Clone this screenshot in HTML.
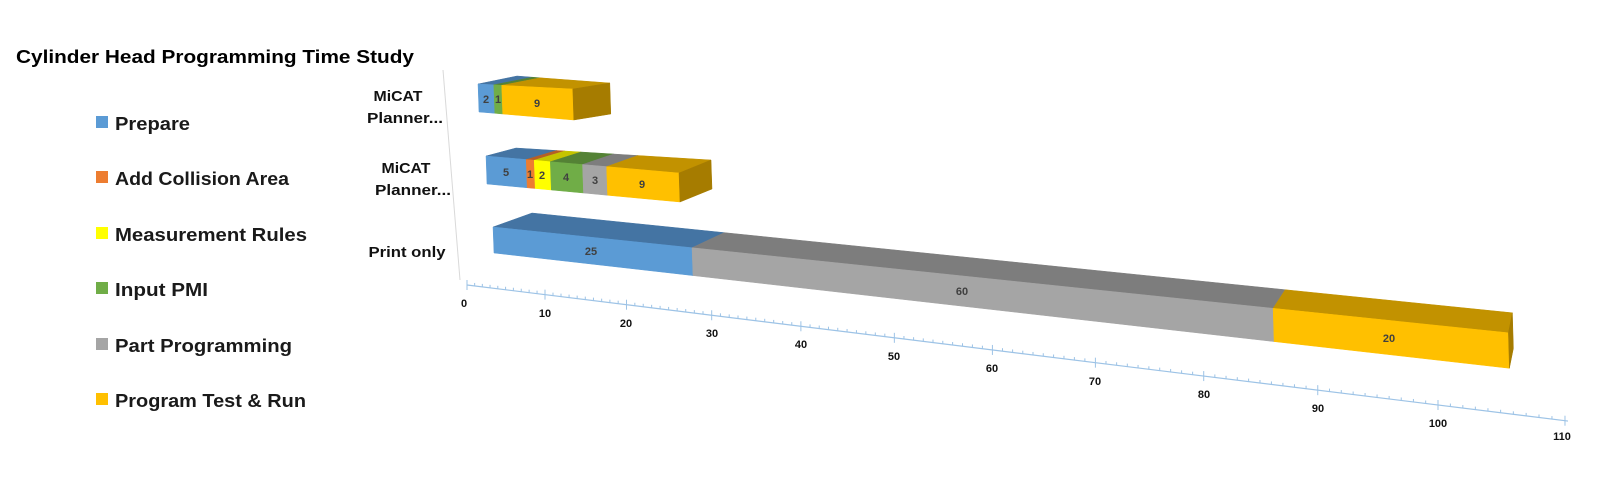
<!DOCTYPE html>
<html><head><meta charset="utf-8"><style>
html,body{margin:0;padding:0;background:#fff;width:1600px;height:500px;overflow:hidden}
svg{display:block}
.t{font-family:"Liberation Sans",sans-serif;font-weight:bold;fill:#000}
.lg{font-family:"Liberation Sans",sans-serif;font-size:18px;font-weight:bold;fill:#1a1a1a}
.cat{font-family:"Liberation Sans",sans-serif;font-size:15px;font-weight:bold;fill:#111;text-anchor:middle}
.ax{font-family:"Liberation Sans",sans-serif;font-size:11px;font-weight:bold;fill:#111;text-anchor:middle}
.bl{font-family:"Liberation Sans",sans-serif;font-size:11px;font-weight:bold;fill:#404040;text-anchor:middle}
</style></head><body>
<svg id="s" width="1600" height="500" viewBox="0 0 1600 500" xmlns="http://www.w3.org/2000/svg">
<text class="t" x="16" y="63" font-size="18" textLength="398" lengthAdjust="spacingAndGlyphs">Cylinder Head Programming Time Study</text>
<rect x="96" y="116" width="12" height="12" fill="#5b9bd5"/><text class="lg" x="115" y="130" textLength="75" lengthAdjust="spacingAndGlyphs">Prepare</text>
<rect x="96" y="171" width="12" height="12" fill="#ed7d31"/><text class="lg" x="115" y="185" textLength="174" lengthAdjust="spacingAndGlyphs">Add Collision Area</text>
<rect x="96" y="227" width="12" height="12" fill="#ffff00"/><text class="lg" x="115" y="241" textLength="192" lengthAdjust="spacingAndGlyphs">Measurement Rules</text>
<rect x="96" y="282" width="12" height="12" fill="#70ad47"/><text class="lg" x="115" y="296" textLength="93" lengthAdjust="spacingAndGlyphs">Input PMI</text>
<rect x="96" y="338" width="12" height="12" fill="#a5a5a5"/><text class="lg" x="115" y="352" textLength="177" lengthAdjust="spacingAndGlyphs">Part Programming</text>
<rect x="96" y="393" width="12" height="12" fill="#ffc000"/><text class="lg" x="115" y="407" textLength="191" lengthAdjust="spacingAndGlyphs">Program Test &amp; Run</text>
<text class="cat" x="398" y="101" textLength="49" lengthAdjust="spacingAndGlyphs">MiCAT</text><text class="cat" x="405" y="123" textLength="76" lengthAdjust="spacingAndGlyphs">Planner...</text>
<text class="cat" x="406" y="173" textLength="49" lengthAdjust="spacingAndGlyphs">MiCAT</text><text class="cat" x="413" y="195" textLength="76" lengthAdjust="spacingAndGlyphs">Planner...</text>
<text class="cat" x="407" y="257" textLength="77" lengthAdjust="spacingAndGlyphs">Print only</text>
<line x1="443" y1="70" x2="460" y2="280" stroke="#d9d9d9" stroke-width="1"/>
<g id="bars"></g>
<g id="axis"></g>
<text class="bl" x="486" y="103">2</text><text class="bl" x="498" y="103">1</text><text class="bl" x="537" y="107">9</text>
<text class="bl" x="506" y="176">5</text><text class="bl" x="530" y="178">1</text><text class="bl" x="542" y="179">2</text>
<text class="bl" x="566" y="181">4</text><text class="bl" x="595" y="184">3</text><text class="bl" x="642" y="188">9</text>
<text class="bl" x="591" y="255">25</text><text class="bl" x="962" y="295">60</text><text class="bl" x="1389" y="342">20</text>
<text class="ax" x="464" y="307">0</text>
<text class="ax" x="545" y="317">10</text>
<text class="ax" x="626" y="327">20</text>
<text class="ax" x="712" y="337">30</text>
<text class="ax" x="801" y="348">40</text>
<text class="ax" x="894" y="360">50</text>
<text class="ax" x="992" y="372">60</text>
<text class="ax" x="1095" y="385">70</text>
<text class="ax" x="1204" y="398">80</text>
<text class="ax" x="1318" y="412">90</text>
<text class="ax" x="1438" y="427">100</text>
<text class="ax" x="1562" y="440">110</text>
</svg>
<script>
var NS="http://www.w3.org/2000/svg";
function poly(g,pts,fill){var p=document.createElementNS(NS,"polygon");p.setAttribute("points",pts.map(function(a){return a[0].toFixed(1)+","+a[1].toFixed(1)}).join(" "));p.setAttribute("fill",fill);p.setAttribute("stroke",fill);p.setAttribute("stroke-width","0.5");g.appendChild(p);}
var C={b:["#5b9bd5","#4474a3","#3a6590"],o:["#ed7d31","#b55f26","#9a5020"],y:["#ffff00","#c4c400","#a8a800"],g:["#70ad47","#548235","#476e2d"],r:["#a5a5a5","#7d7d7d","#6a6a6a"],k:["#ffc000","#c29200","#a67c00"]};
var bars=[
 {x:function(v){return 493+7.544*v/(1-0.002094*v)},ty:function(x){return 227+(x-493)*0.1042},by:function(x){return 253+(x-493)*0.1136},
  d:function(x){var t=(x-493)/1017;return [39-35*t,-14-6*t]},segs:[[0,25,"b"],[25,85,"r"],[85,105,"k"]]},
 {x:function(v){return 486+8.04*v},ty:function(x){return 156+(x-486)*0.088},by:function(x){return 184+(x-486)*0.0933},
  d:function(x){var t=(x-486)/193;return [30+2*t,-8-5*t]},segs:[[0,5,"b"],[5,6,"o"],[6,8,"y"],[8,12,"g"],[12,15,"r"],[15,24,"k"]]},
 {x:function(v){return 478+7.9*v},ty:function(x){return 84+(x-478)*0.053},by:function(x){return 112+(x-478)*0.084},
  d:function(x){var t=(x-478)/95;return [39-2*t,-8+2*t]},segs:[[0,2,"b"],[2,3,"g"],[3,12,"k"]]}
];
var g=document.getElementById("bars");
bars.forEach(function(B){
 B.segs.forEach(function(s){
  var x0=B.x(s[0]),x1=B.x(s[1]),d0=B.d(x0),d1=B.d(x1),c=C[s[2]];
  poly(g,[[x0,B.ty(x0)],[x1,B.ty(x1)],[x1+d1[0],B.ty(x1)+d1[1]],[x0+d0[0],B.ty(x0)+d0[1]]],c[1]);
  poly(g,[[x0,B.ty(x0)],[x1,B.ty(x1)],[x1+1,B.by(x1)],[x0+1,B.by(x0)]],c[0]);
 });
 var last=B.segs[B.segs.length-1],xe=B.x(last[1]),de=B.d(xe),c=C[last[2]];
 poly(g,[[xe,B.ty(xe)],[xe+de[0],B.ty(xe)+de[1]],[xe+de[0]+1,B.by(xe)+de[1]],[xe+1,B.by(xe)]],c[2]);
});
var a=document.getElementById("axis");
function ax(v){return 467+7.633*v/(1-0.002139*v)}
function ay(x){return 285+(x-467)*0.1236}
var L=document.createElementNS(NS,"line");L.setAttribute("x1",467);L.setAttribute("y1",285);L.setAttribute("x2",1568);L.setAttribute("y2",ay(1568));L.setAttribute("stroke","#9dc3e6");L.setAttribute("stroke-width","1.2");a.appendChild(L);
for(var v=0;v<=110;v++){var x=ax(v),y=ay(x),m=(v%10==0);var t=document.createElementNS(NS,"line");t.setAttribute("x1",x);t.setAttribute("x2",x);t.setAttribute("y1",y-(m?5:3));t.setAttribute("y2",y+(m?5:0));t.setAttribute("stroke","#9dc3e6");t.setAttribute("stroke-width","1");a.appendChild(t);}
</script>
</body></html>
